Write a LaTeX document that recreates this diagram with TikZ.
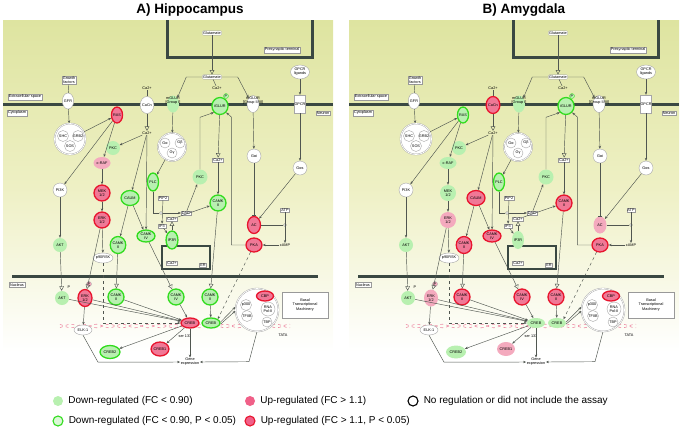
\documentclass[tikz,border=0pt]{standalone}
\usepackage{fontspec}
\setmainfont{Liberation Sans}
\usetikzlibrary{shapes.geometric,arrows.meta,positioning}
\definecolor{bgtop}{RGB}{222,228,160}
\definecolor{bgmid}{RGB}{238,240,196}
\definecolor{membc}{RGB}{58,72,66}
\definecolor{edgec}{RGB}{80,86,80}
\definecolor{lgreen}{RGB}{184,240,176}
\definecolor{sgreen}{RGB}{50,220,30}
\definecolor{lpink}{RGB}{244,170,190}
\definecolor{mpink}{RGB}{240,120,150}
\definecolor{legpink}{RGB}{240,96,136}
\definecolor{sred}{RGB}{232,20,45}
\definecolor{dnapink}{RGB}{238,140,165}
\newcommand{\gfont}{\fontsize{3.8}{4.1}\selectfont}

\tikzset{
  gene/.style={ellipse, draw=gray!70, fill=white, line width=0.4pt, minimum width=14pt, minimum height=14pt, inner sep=0pt, font=\gfont, align=center},
  nc/.style={gene},
  dn/.style={gene, draw=none, fill=lgreen},
  dnsig/.style={gene, draw=sgreen, line width=1.3pt, fill=lgreen},
  up/.style={gene, draw=none, fill=lpink},
  upsig/.style={gene, draw=sred, line width=1.3pt, fill=mpink},
  mol/.style={rectangle, draw=gray!80, fill=white, line width=0.3pt, inner sep=0.8pt, font=\gfont},
  lab/.style={rectangle, draw=gray!80, fill=white, line width=0.3pt, inner sep=1pt, font=\gfont},
  txt/.style={inner sep=0.5pt, font=\gfont, align=center},
  cplx/.style={circle, draw=gray!70, double=white, double distance=0.7pt, fill=white, inner sep=0pt},
  junc/.style={circle, draw=edgec, fill=white, line width=0.3pt, minimum size=3pt, inner sep=0pt},
  pmark/.style={circle, draw=gray!70, line width=0.3pt, minimum size=5pt, inner sep=0pt, font=\gfont},
  memb/.style={draw=membc, line width=3pt},
  link/.style={draw=edgec, line width=0.45pt},
  edge/.style={link, -{Stealth[length=3pt,width=2.4pt]}},
  trans/.style={link, -{Triangle[open,length=4.5pt,width=4.5pt]}},
  inhib/.style={link, -{Bar[width=4pt]}},
  dna/.style={draw=dnapink, line width=0.6pt, dashed},
  legtxt/.style={font=\fontsize{10}{12}\selectfont, inner sep=0pt, anchor=west}
}

\newcommand{\pathwaypanel}{
\shade[top color=bgtop, bottom color=white, middle color=bgmid] (3,20) rectangle (333,352);
\draw[memb] (167,20) -- (167,57) -- (312,57) -- (312,20);
\draw[memb] (3,104) -- (333,104);
\draw[memb] (12,276) -- (318,276);
\draw[draw=membc, line width=2pt] (162,246) rectangle (210,269);
\draw[dna] plot[domain=60:290, samples=90] (\x,{326+1.8*sin(14*\x)});
\draw[dna] plot[domain=60:290, samples=90] (\x,{326-1.8*sin(14*\x)});
\node[lab] (presyn) at (282,50) {Presynaptic terminal};
\node[lab] (extra) at (25,97) {Extracellular space};
\node[lab] (cyto) at (17,113) {Cytoplasm};
\node[lab] (neuron) at (323,113) {Neuron};
\node[lab] (nucl) at (17,285) {Nucleus};
\node[lab] (er) at (203,265) {ER};
\node[lab, align=center, minimum width=46pt, minimum height=26pt] (btm) at (305,305) {Basal\\Transcriptional\\Machinery};
\node[txt] (tata) at (283,335) {TATA};
\node[mol, rounded corners=1pt] (glua) at (212,33) {Glutamate};
\node[mol, rounded corners=1pt] (glub) at (212,77) {Glutamate};
\node[mol, align=center] (gf) at (69,80) {Growth\\factors};
\node[nc, minimum width=19pt] (gpcrl) at (300,72) {GPCR\\ligands};
\node[txt] (caext) at (147,88) {Ca2+};
\node[txt] (caig) at (217,88) {Ca2+};
\node[txt] (cacy) at (147,133) {Ca2+};
\node[mol] (cami) at (218,160) {Ca2+};
\node[mol] (pip2) at (163,198) {PIP2};
\node[mol] (dag) at (186,213) {DAG};
\node[mol] (ip3) at (162,226) {IP3};
\node[mol] (caer) at (172,219) {Ca2+};
\node[mol] (cain) at (172,263) {Ca2+};
\node[mol] (atp) at (285,210) {ATP};
\node[txt] (camp) at (285,245) {cAMP};
\node[txt] (genex) at (190,362) {Gene\\expression};
\node[nc, minimum width=11pt, minimum height=16pt] (gfr) at (68,101) {GFR};
\node[kcacn, minimum width=11pt, minimum height=17pt] (cacn) at (147,105) {CaCn};
\node[dn, minimum width=12pt, minimum height=17pt] (mglura) at (173,104) {};
\node[txt] (mgluratx) at (173,101) {mGLUR\\{[Group I]}};
\node[dnsig, minimum width=13pt, minimum height=17pt] (iglur) at (220,106) {iGLUR};
\node[pmark, fill=lgreen, draw=sgreen] (pig) at (226,96) {P};
\node[nc, minimum width=12pt, minimum height=17pt] (mglurb) at (253,104) {};
\node[txt] (mglurbtx) at (253,101) {mGLUR\\{[Group II/III]}};
\node[rectangle, draw=gray!70, fill=white, minimum width=11pt, minimum height=18pt, font=\gfont, inner sep=0pt] (gpcr) at (300,104) {GPCR};
\node[kras, minimum width=11pt, minimum height=16pt] (ras) at (117,115) {RAS};
\node[cplx, minimum size=31pt] (cplxa) at (70,139) {};
\node[nc, circle, minimum size=11pt] (shc) at (63,136) {SHC};
\node[nc, circle, minimum size=11pt] (grb2) at (78,136) {GRB2};
\node[nc, circle, minimum size=11pt] (sos) at (70,146) {SOS};
\node[dn] (pkca) at (113,148) {PKC};
\node[kcraf, minimum width=17pt, minimum height=12pt] (craf) at (102,163) {c-RAF};
\node[nc] (pi3k) at (60,190) {PI3K};
\node[kmek, minimum size=16pt] (mek) at (102,193) {MEK\\1/2};
\node[kerk, minimum size=16pt] (erk) at (102,220) {ERK\\1/2};
\node[dn] (akt) at (60,245) {AKT};
\node[kcaum, minimum width=18pt, minimum height=15pt] (caum) at (130,198) {CAUM};
\node[kcamk, minimum width=18pt, minimum height=12pt] (camk4a) at (146,236) {CAMK\\IV};
\node[kcamk, minimum width=15pt, minimum height=17pt] (camk2a) at (118,245) {CAMK\\II};
\node[cplx, minimum size=28pt] (gcx) at (172,147) {};
\node[nc, circle, minimum size=10pt] (galpha) at (165,143) {Gα};
\node[nc, circle, minimum size=10pt] (gbeta) at (180,143) {Gβ};
\node[nc, circle, minimum size=10pt] (ggamma) at (172,153) {Gγ};
\node[dnsig, minimum width=11pt, minimum height=18pt] (plc) at (153,182) {PLC};
\node[dn, minimum size=15pt] (pkcb) at (200,177) {PKC};
\node[kcamk, minimum size=16pt] (camk2b) at (218,203) {CAMK\\II};
\node[kip3r, minimum width=11pt, minimum height=18pt] (ip3r) at (172,240) {IP3R};
\node[nc] (gai) at (254,156) {Gαi};
\node[nc] (gas) at (300,168) {Gαs};
\node[kac, minimum width=13pt, minimum height=17pt] (ac) at (254,225) {AC};
\node[upsig, minimum width=16pt, minimum height=14pt] (pka) at (254,245) {PKA};
\node[junc] (jac) at (285,225) {};
\node[junc] (jpl) at (161,213) {};
\node[nc, minimum width=19pt, minimum height=10pt] (p90) at (103,258) {p90RSK};
\node[dn] (aktn) at (62,298) {AKT};
\node[txt] (pakt) at (69,287) {P};
\node[kerkn, minimum width=14pt, minimum height=17pt] (erkn) at (85,298) {ERK\\1/2};
\node[pmark, fill=lpink] (perk) at (89,284) {P};
\node[kcamk, minimum size=16pt] (camk2n) at (116,297) {CAMK\\II};
\node[kcamk, minimum size=16pt] (camk4n) at (176,297) {CAMK\\IV};
\node[kcamk, minimum size=16pt] (camk2m) at (210,297) {CAMK\\II};
\node[kcreba, minimum width=18pt, minimum height=10pt] (creba) at (190,323) {CREB};
\node[kcrebb, minimum width=18pt, minimum height=10pt] (crebb) at (211,323) {CREB};
\node[cplx, minimum size=43pt] (btc) at (257,310) {};
\node[upsig, minimum width=17pt, minimum height=10pt] (cbp) at (265,296) {CBP};
\node[nc, circle, minimum size=11pt] (p300) at (246,305) {p300};
\node[nc, circle, minimum size=14pt] (rnap) at (268,309) {RNA\\Pol-II};
\node[nc, circle, minimum size=11pt] (tfiib) at (247,316) {TFIIB};
\node[nc, circle, minimum size=10pt] (tbp) at (267,322) {TBP};
\node[nc, minimum width=18pt, minimum height=10pt] (elk) at (83,330) {ELK-1};
\node[kcreb2, minimum width=20pt, minimum height=13pt] (creb2) at (110,352) {CREB2};
\node[kcreb1, minimum width=16pt, minimum height=14pt] (creb1) at (160,349) {CREB1};
\node[txt] (ser) at (185,336) {ser 133};
\draw[trans] (glua) -- (glub);
\draw[edge] (glub.west) -- ++(-16,0) -- (mglura.north east);
\draw[edge] (glub.east) -- ++(16,0) -- (mglurb.north west);
\draw[link] (glub) -- (caig);
\draw[link] (gf) -- (gfr);
\draw[edge] (gfr) -- (cplxa);
\draw[edge] (cplxa) -- (ras);
\draw[link] (caext) -- (cacn);
\draw[trans] (cacn) -- (cacy);
\draw[edge] (cacy) -- (pkca);
\draw[edge] (cacy) -- (caum);
\draw[edge] (cacy) -- (camk4a);
\draw[edge] (ras) -- (pi3k);
\draw[edge] (ras) -- (craf);
\draw[edge] (craf) -- (mek);
\draw[edge] (mek) -- (erk);
\draw[trans] (erk) -- (erkn);
\draw[edge] (erk) -- (p90);
\draw[edge] (pi3k) -- (akt);
\draw[trans] (akt) -- (aktn);
\draw[edge] (caum) -- (camk2a);
\draw[edge] (caum) -- (camk4a);
\draw[trans] (camk2a) -- (camk2n);
\draw[trans] (camk4a) -- (camk4n);
\draw[edge] (mglura) -- (gcx);
\draw[edge] (gcx) -- (plc);
\draw[link] (plc) |- (jpl);
\draw[edge] (jpl) -- (dag);
\draw[edge] (pip2) -- (ip3);
\draw[edge] (dag) -- (pkcb);
\draw[edge] (caer) -- (camk2b);
\draw[edge] (ip3) -- (ip3r);
\draw[trans] (ip3r) -- (caer);
\draw[trans] (iglur) -- (cami);
\draw[edge] (cami) -- (camk2b);
\draw[edge] (pkcb.north) -- ++(0,-52) -- (iglur.south west);
\draw[edge] (pka.west) -- ++(-14,0) -- ++(0,-128) -- (iglur.south east);
\draw[edge] (mglurb) -- (gai);
\draw[inhib] (gai) -- (ac);
\draw[edge] (gpcrl) -- (gpcr);
\draw[edge] (gpcr) -- (gas);
\draw[edge] (gas) -- (ac);
\draw[link] (ac) -- (jac);
\draw[edge] (atp) -- (camp);
\draw[edge] (camp) -- (pka);
\draw[trans] (camk2b) -- (camk2m);
\draw[edge, dashed] (pka) -- (crebb.north east);
\draw[edge, dashed] (p90.south) |- (creba.west);
\draw[edge] (aktn) -- (creba);
\draw[edge] (erkn) -- (creba);
\draw[edge] (erkn) -- (elk);
\draw[edge] (camk2n) -- (creba);
\draw[edge] (camk4n) -- (creba);
\draw[edge] (camk2m) -- (crebb);
\draw[edge] (creba) -- (genex);
\draw[edge] (creba) -- (creb2);
\draw[edge] (creba) -- (creb1);
\draw[edge] ([yshift=1pt]crebb.east) -- ([yshift=3pt]btc.west);
\draw[edge] ([yshift=-1pt]crebb.east) -- ([yshift=-1pt]btc.west);
\draw[edge] (elk.south) -- ++(15,27) -- (genex.west);
\draw[edge] (btc.south) -- ++(-8,30) -- (genex.east);
}

\begin{document}
\begin{tikzpicture}[x=1pt,y=-1pt]
\useasboundingbox (0,0) rectangle (685,429);
\node[font=\bfseries\fontsize{13.5}{15}\selectfont] (titlea) at (190,10) {A) Hippocampus};
\node[font=\bfseries\fontsize{13.5}{15}\selectfont] (titleb) at (524,10) {B) Amygdala};
\begin{scope}[name prefix=a-, kras/.style=upsig, kcacn/.style=nc, kcraf/.style=up, kmek/.style=upsig, kerk/.style=upsig, kcaum/.style=dnsig, kcamk/.style=dnsig, kip3r/.style=dnsig, kac/.style=upsig, kerkn/.style=upsig, kcreba/.style=upsig, kcrebb/.style=dnsig, kcreb1/.style=upsig, kcreb2/.style=dnsig]
\pathwaypanel
\end{scope}
\begin{scope}[xshift=346pt, name prefix=b-, kras/.style=dnsig, kcacn/.style=upsig, kcraf/.style=dn, kmek/.style=dn, kerk/.style=up, kcaum/.style=upsig, kcamk/.style=upsig, kip3r/.style=dn, kac/.style=up, kerkn/.style=up, kcreba/.style=dn, kcrebb/.style=dn, kcreb1/.style=up, kcreb2/.style=dn]
\pathwaypanel
\end{scope}
\node[circle, fill=lgreen, minimum size=10pt, inner sep=0pt] (lg1) at (58,401) {};
\node[legtxt, right=5pt of lg1] (lt1) {Down-regulated (FC < 0.90)};
\node[circle, fill=legpink, minimum size=10pt, inner sep=0pt] (lg2) at (250,401) {};
\node[legtxt, right=5pt of lg2] (lt2) {Up-regulated (FC > 1.1)};
\node[circle, draw=black, line width=1.1pt, minimum size=10pt, inner sep=0pt] (lg3) at (413,401) {};
\node[legtxt, right=5pt of lg3] (lt3) {No regulation or did not include the assay};
\node[circle, fill=lgreen!50, draw=sgreen, line width=1.1pt, minimum size=10pt, inner sep=0pt] (lg4) at (58,421) {};
\node[legtxt, right=5pt of lg4] (lt4) {Down-regulated (FC < 0.90, P < 0.05)};
\node[circle, fill=legpink, draw=sred, line width=1.1pt, minimum size=10pt, inner sep=0pt] (lg5) at (250,421) {};
\node[legtxt, right=5pt of lg5] (lt5) {Up-regulated (FC > 1.1, P < 0.05)};
\end{tikzpicture}
\end{document}
